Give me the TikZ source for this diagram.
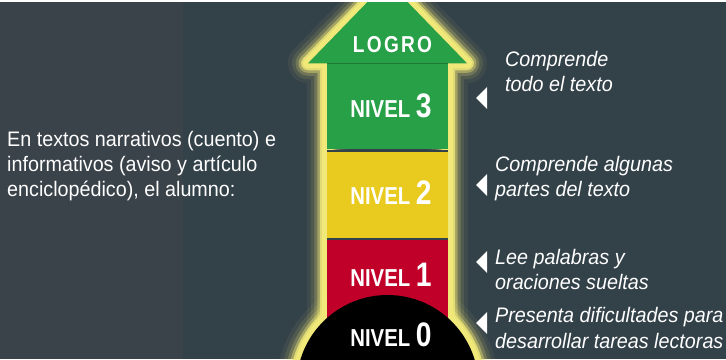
\documentclass[tikz,border=0pt]{standalone}
\usepackage{fontspec}
\setmainfont{Liberation Sans}[FakeStretch=0.94]
\newfontfamily\lvlfont{Liberation Sans}[FakeStretch=0.83]
\newfontfamily\logrofont{Liberation Sans}[FakeStretch=0.83,LetterSpace=10]
\usetikzlibrary{positioning,calc,backgrounds}
\definecolor{slate}{RGB}{58,66,74}
\definecolor{slateb}{RGB}{51,65,73}
\definecolor{lgreen}{RGB}{40,160,72}
\definecolor{lyellow}{RGB}{233,203,32}
\definecolor{lred}{RGB}{193,0,42}
\definecolor{glow}{RGB}{240,232,120}
\newcommand\lvnum[1]{{\fontsize{34}{34}\selectfont #1}}

\begin{document}
\begin{tikzpicture}[x=1pt,y=1pt]
        \tikzstyle{level}=[rectangle,inner sep=0pt,minimum width=121pt,minimum height=86pt]
        \tikzstyle{lvltext}=[text=white,anchor=base,inner sep=0pt,font=\lvlfont\bfseries\fontsize{24.5}{25}\selectfont]
        \tikzstyle{desc}=[text=white,anchor=base west,align=left,inner sep=0pt,font=\fontsize{21}{25}\selectfont\itshape]
        \tikzstyle{pointer}=[fill=white]
        \clip (0,0) rectangle (726,359);

        \node[level,fill=lgreen] (n3) at (387.5,252.5) {};
        \node[level,fill=lyellow] (n2) [below=2pt of n3] {};
        \node[level,fill=lred] (n1) [below=2pt of n2] {};
        \fill[slateb] (n3.south west) rectangle (n2.north east);
        \fill[slateb] (n2.south west) rectangle (n1.north east);
        \coordinate (tip) at ($(n3.north)+(0,82)$);
        \coordinate (hl) at ($(n3.north)+(-79.5,0)$);
        \coordinate (hr) at ($(n3.north)+(79.5,0)$);
        \fill[lgreen] (hl) -- (tip) -- (hr) -- cycle;
        \draw[lgreen!75!black,line width=0.6pt] (hl-|n3.west) -- (hr-|n3.east);
        \node[circle,fill=black,minimum size=182pt,inner sep=0pt] (n0) at (387.5,-27) {};

        \begin{scope}[on background layer]
            \clip (0,0) rectangle (726,359);
            \fill[slate] (0,0) rectangle (183,359);
            \fill[slateb] (183,0) rectangle (726,359);
            \coordinate (bot) at (0,-40);
            \foreach \w/\o in {40/0.06,32/0.1,25/0.2,19/0.4,14/0.8,10/1}{
                \draw[glow,line width=\w pt,opacity=\o,line join=round]
                    (hl) -- (tip) -- (hr) -- (hr-|n3.east) -- (n3.east|-bot) -- (n3.west|-bot) -- (hl-|n3.west) -- cycle;
                \draw[glow,line width=\w pt,opacity=\o] (n0.center) circle (91pt);
            }
        \end{scope}

        \node[text=white,anchor=base,inner sep=0pt,font=\logrofont\bfseries\fontsize{23}{25}\selectfont] (logro) at (392.5,306) {LOGRO};
        \node[lvltext] (l3) at (391,241) {NIVEL \lvnum{3}};
        \node[lvltext] (l2) at (391,154.5) {NIVEL \lvnum{2}};
        \node[lvltext] (l1) at (391,72.3) {NIVEL \lvnum{1}};
        \node[lvltext] (l0) at (391,12.3) {NIVEL \lvnum{0}};

        \node[text=white,anchor=base west,align=left,inner sep=0pt,font=\fontsize{21}{25}\selectfont] (intro) at (7,162.3)
            {En textos narrativos (cuento) e\\informativos (aviso y artículo\\enciclopédico), el alumno:};

        \node[desc] (d3) at (505,267) {Comprende\\todo el texto};
        \node[desc] (d2) at (495,162.3) {Comprende algunas\\partes del texto};
        \node[desc] (d1) at (495,69) {Lee palabras y\\oraciones sueltas};
        \node[desc] (d0) at (495,11) {Presenta dificultades para\\desarrollar tareas lectoras};

        \coordinate (p3) at (476,261);
        \coordinate (p2) at (476,174);
        \coordinate (p1) at (476,97);
        \coordinate (p0) at (476,36);
        \foreach \p in {p3,p2,p1,p0}
            \fill[pointer] (\p) -- ++(11,11) -- ++(0,-22) -- cycle;

        \fill[white] (0,357) rectangle (726,359);
    \end{tikzpicture}
\end{document}
